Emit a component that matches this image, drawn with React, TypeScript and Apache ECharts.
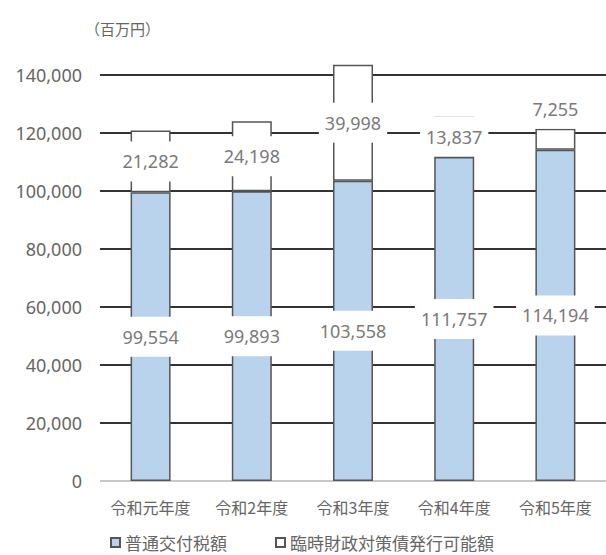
import React, { useEffect, useRef } from "react";
import * as echarts from "echarts";

const categories = ["令和元年度", "令和2年度", "令和3年度", "令和4年度", "令和5年度"];
const ordinaryTax = [99554, 99893, 103558, 111757, 114194];
const tempBonds = [21282, 24198, 39998, 13837, 7255];
const seriesNames = ["普通交付税額", "臨時財政対策債発行可能額"];
const unitLabel = "（百万円）";
const yMin = 0;
const yMax = 140000;
const yStep = 20000;

const fmt = (v: number) => v.toLocaleString("en-US");
const FONT = "'Noto Sans', 'Noto Sans CJK JP', sans-serif";
const CJK = "'Noto Sans CJK JP', sans-serif";

export default function App() {
  const ref = useRef<HTMLDivElement>(null);
  useEffect(() => {
    if (!ref.current) return;
    const chart = echarts.init(ref.current, undefined, { renderer: "svg" });
    const labelBase = {
      show: true,
      position: "inside",
      color: "#7a7a7a",
      fontSize: 18,
      fontFamily: FONT,
      backgroundColor: "#ffffff",
      padding: [11, 6],
      formatter: (p: any) => fmt(p.value),
    };
    const splitColors = ["#c8c8c8"];
    for (let i = 1; i <= (yMax - yMin) / yStep; i++) splitColors.push("#333333");
    chart.setOption({
      animation: false,
      textStyle: { fontFamily: FONT },
      grid: { left: 100, right: -6, top: 75, bottom: 74, containLabel: false },
      graphic: [
        {
          type: "text",
          left: 85,
          top: 21,
          style: { text: unitLabel, fontSize: 15, fill: "#666", fontFamily: CJK },
        },
      ],
      legend: {
        left: 105,
        top: 529,
        itemWidth: 9,
        itemHeight: 9,
        itemGap: 48,
        icon: "rect",
        textStyle: { fontSize: 17, lineHeight: 17, color: "#666", fontFamily: CJK },
        data: seriesNames,
      },
      xAxis: {
        type: "category",
        data: categories,
        axisLine: { show: false },
        axisTick: { show: false },
        axisLabel: { interval: 0, fontSize: 16, color: "#666", margin: 18, fontFamily: CJK },
      },
      yAxis: {
        type: "value",
        min: yMin,
        max: yMax,
        interval: yStep,
        axisLine: { show: false },
        axisTick: { show: false },
        axisLabel: { fontSize: 18, color: "#666", margin: 18, formatter: (v: number) => fmt(v) },
        splitLine: { lineStyle: { color: splitColors, width: 2 } },
      },
      series: [
        {
          name: seriesNames[0],
          type: "bar",
          stack: "total",
          barWidth: 40,
          clip: false,
          itemStyle: { color: "#b9d3ec", borderColor: "#555", borderWidth: 1.5 },
          label: labelBase,
          data: ordinaryTax,
        },
        {
          name: seriesNames[1],
          type: "bar",
          stack: "total",
          barWidth: 40,
          clip: false,
          itemStyle: { color: "#ffffff", borderColor: "#555", borderWidth: 1.5 },
          label: labelBase,
          data: tempBonds.map((v, i) =>
            i === tempBonds.length - 1 ? { value: v, label: { position: "top", distance: 0 } } : v
          ),
        },
      ],
    });
    return () => chart.dispose();
  }, []);
  return (
    <div
      ref={ref}
      style={{ position: "fixed", left: 0, top: 0, width: 606, height: 555, background: "#fff" }}
    />
  );
}
